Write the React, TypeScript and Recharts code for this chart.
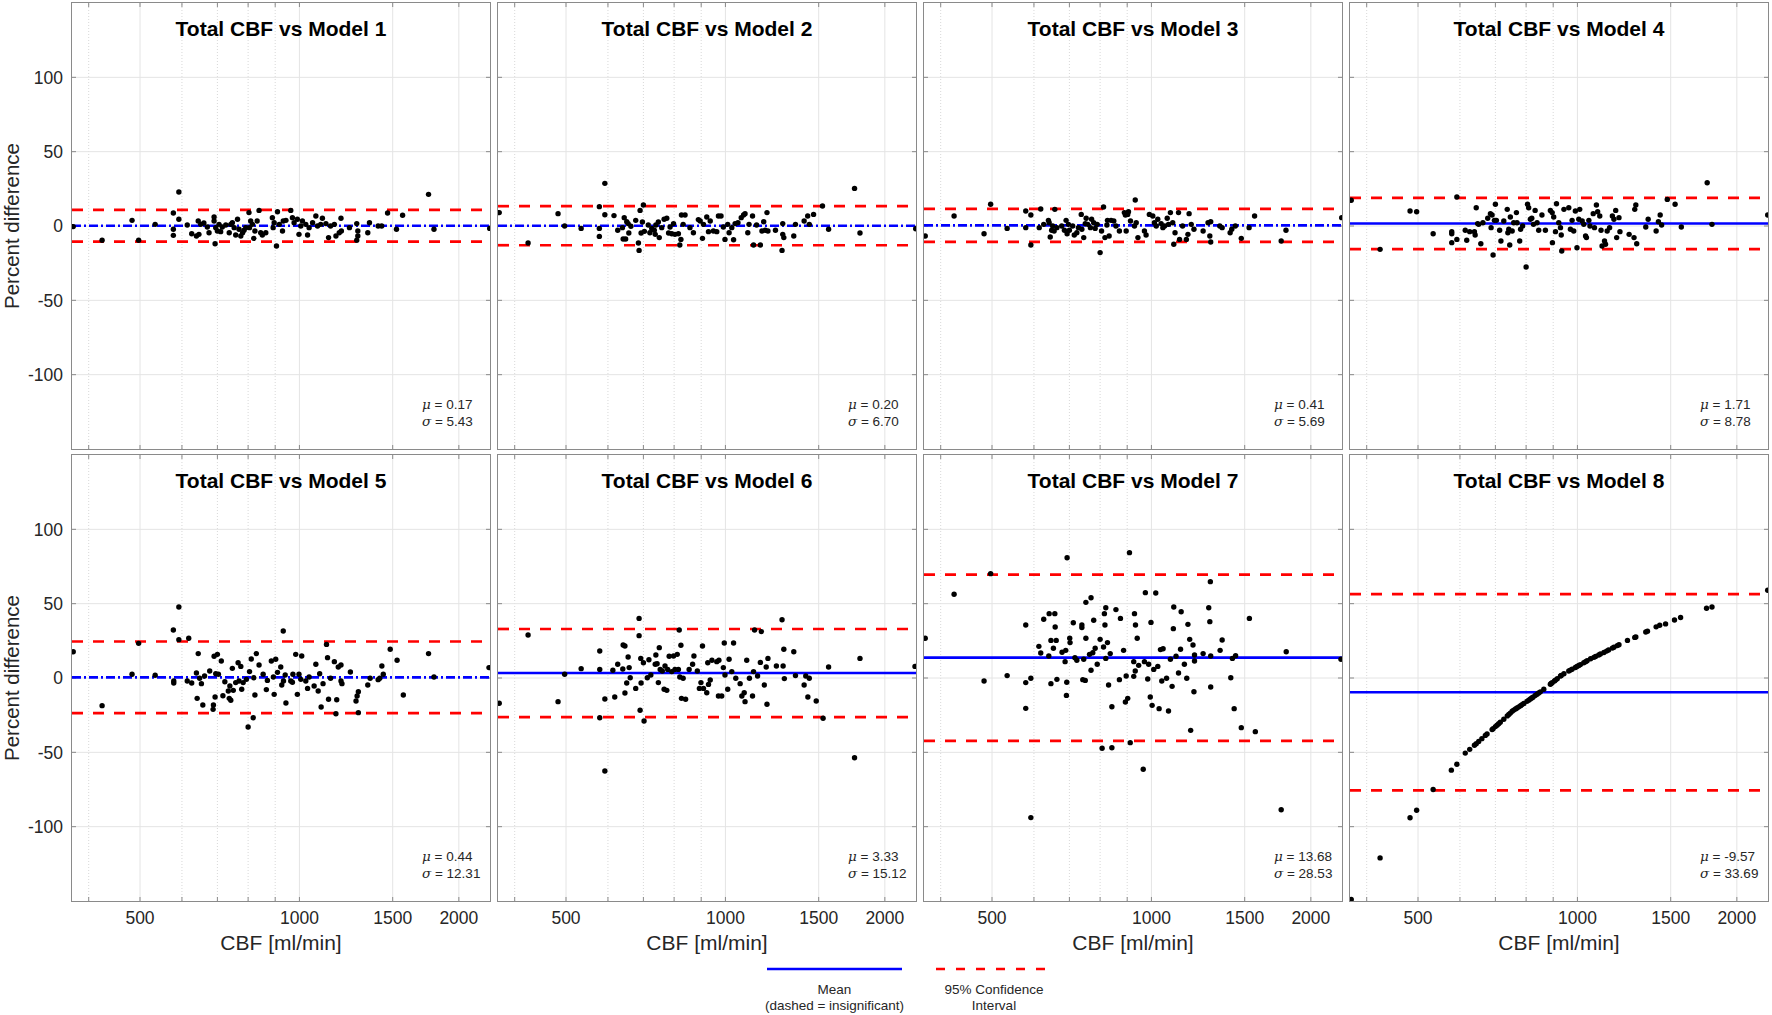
import React from 'react';
import { ScatterChart, Scatter, XAxis, YAxis, ReferenceLine } from 'recharts';

// ---- data ----
const MODEL_NAMES = ['Model 1', 'Model 2', 'Model 3', 'Model 4', 'Model 5', 'Model 6', 'Model 7', 'Model 8'];
const MEANS = [0.17, 0.2, 0.41, 1.71, 0.44, 3.33, 13.68, -9.57];
const SIGMAS = [5.43, 6.7, 5.69, 8.78, 12.31, 15.12, 28.53, 33.69];
// solid mean line = significant, dash-dot = insignificant
const SIGNIFICANT = [false, false, false, true, false, true, true, true];

const X_TICKS = [500, 1000, 1500, 2000];
const X_MINOR = [400, 600, 700, 800, 900];
const Y_TICKS = [-100, -50, 0, 50, 100];
const X_DOMAIN: [number, number] = [372, 2290];
const Y_DOMAIN: [number, number] = [-150, 150];

type Pt = [number, number];

const model1: Pt[] = [
  [374, -0.4], [424, -9.6], [483, 3.8], [497, -9.6], [534, 1.1], [578, 8.7], [578, -2.2], [578, -6.3], [592, 22.9], [592, 4.5],
  [614, 0.7], [626, -5.2], [639, -6.7], [644, 3.4], [646, -5.6], [651, 1.1], [660, 2.0], [670, -0.7], [675, -4.5], [690, 6.1],
  [690, 3.4], [693, -11.9], [695, -1.1], [700, -3.4], [705, 1.1], [710, -3.8], [715, -0.7], [726, 0.7], [737, -4.5], [742, 1.1],
  [747, 2.2], [753, -1.1], [758, -6.1], [764, 4.5], [769, -2.2], [775, -6.7], [781, -4.5], [786, -2.9], [792, -1.1], [803, 9.0],
  [805, -1.1], [809, 3.4], [815, 1.1], [820, -8.3], [824, -3.4], [832, 3.4], [839, 10.5], [845, -4.5], [851, -6.1], [864, -4.5],
  [889, 5.6], [892, -1.1], [896, 2.2], [905, -13.5], [909, 9.6], [916, 1.1], [929, -3.4], [932, 3.4], [943, 3.8], [963, 10.5],
  [970, 5.6], [977, 2.2], [991, 4.5], [998, -5.6], [1006, 0], [1013, 3.4], [1028, 1.1], [1036, -6.1], [1043, -1.1], [1059, 2.2],
  [1074, 6.7], [1082, 0], [1097, 1.1], [1105, 5.2], [1122, 1.6], [1135, -7.8], [1145, 0], [1164, 1.1], [1172, -6.7], [1189, -4.5],
  [1198, 5.2], [1200, -3.4], [1243, -1.1], [1283, 1.6], [1289, -3.4], [1289, -6.7], [1283, -9.6], [1346, -4.5], [1356, 2.2],
  [1408, 0], [1430, 0], [1467, 8.7], [1525, -2.2], [1566, 7.2], [1753, 21.3], [1795, -2.2], [2287, -1.6],
];

const model2: Pt[] = [
  [374, 9.0], [424, -11.4], [483, 8.3], [497, 0], [534, -1.6], [578, 13.0], [578, -1.6], [578, -7.0], [592, 28.7], [592, 7.6],
  [616, 7.0], [626, -2.9], [639, -1.1], [641, -8.7], [644, 5.6], [648, -8.7], [651, 2.9], [655, 1.6], [657, -4.7], [663, -0.2],
  [677, 3.8], [685, -11.4], [687, -16.4], [690, 10.5], [693, -4.7], [697, 2.7], [700, 14.1], [703, -3.6], [715, 0.7], [720, -4.5],
  [726, -1.6], [734, -2.9], [737, -5.6], [739, 0.7], [747, 2.7], [750, -7.8], [758, -1.1], [766, 4.5], [775, 5.2], [781, -4.7],
  [786, -0.7], [792, -5.2], [798, 1.6], [803, -5.6], [815, -5.2], [820, -12.8], [824, -9.0], [826, 7.4], [832, 1.1], [839, 7.4],
  [857, -1.1], [870, -4.5], [889, 4.3], [896, 3.4], [905, -8.3], [909, 1.1], [922, 6.1], [929, -3.8], [936, 3.4], [949, -3.4],
  [963, -3.8], [970, 6.7], [981, 6.7], [991, -0.7], [998, -9.0], [1010, 1.1], [1016, -4.5], [1028, -1.1], [1036, -9.2], [1043, 1.6],
  [1056, 2.2], [1071, 5.6], [1082, 7.4], [1089, 8.3], [1102, -4.5], [1108, 1.1], [1125, 6.7], [1130, -12.8], [1145, 0.7], [1164, -12.8],
  [1172, -3.4], [1181, 2.9], [1189, -2.9], [1198, 9.0], [1203, -3.4], [1243, -2.9], [1283, 1.6], [1283, -5.6], [1289, -7.8], [1279, -16.4],
  [1346, -6.7], [1356, 1.1], [1408, 3.4], [1430, 6.7], [1440, 1.1], [1467, 7.8], [1525, 13.5], [1566, -2.2], [1753, 25.3], [1795, -4.7],
  [2287, -1.8],
];

const model3: Pt[] = [
  [374, -6.7], [424, 6.7], [483, -5.2], [497, 14.6], [534, -1.6], [579, 10.1], [579, -1.1], [592, 7.4], [592, -12.8], [614, -1.1],
  [618, 11.4], [626, 1.1], [639, 3.8], [641, 2.2], [644, -7.4], [648, -2.9], [651, 0], [655, -3.4], [657, 11.2], [663, -1.1],
  [677, 0], [685, -2.9], [690, 3.8], [693, -5.2], [697, 1.1], [700, -2.9], [710, 0], [715, -6.1], [723, -4.5], [728, -1.1],
  [737, 7.8], [739, -2.2], [745, -7.8], [750, 1.6], [753, 5.2], [758, 1.1], [767, -1.1], [771, 4.5], [778, 2.2], [783, -1.6],
  [790, 1.1], [800, -17.9], [805, -3.4], [812, 12.8], [817, -7.8], [824, 0.7], [826, 3.8], [832, -6.7], [839, 3.8], [849, 3.4],
  [857, 0], [870, -3.4], [889, 9.0], [893, 7.4], [896, -3.4], [902, 7.8], [905, 9.6], [913, 3.4], [929, 0], [932, 17.5],
  [936, 2.2], [943, -7.8], [970, -3.4], [977, -6.1], [991, 7.8], [1006, 6.7], [1013, 2.2], [1021, 0], [1028, 4.5], [1043, 1.6],
  [1051, -1.1], [1059, 0], [1071, 5.2], [1077, 1.1], [1086, 9.0], [1097, 2.2], [1102, -12.3], [1108, -4.5], [1125, 9.0], [1130, -9.0],
  [1145, 0], [1164, -9.0], [1172, -5.6], [1178, 8.3], [1189, 1.1], [1203, -2.2], [1252, -3.4], [1279, 2.2], [1289, -6.7], [1294, -10.8],
  [1294, 2.9], [1346, 0], [1360, -1.1], [1408, -4.5], [1418, -2.2], [1440, 0], [1478, -8.3], [1529, -1.1], [1566, 6.7], [1758, -10.1],
  [1795, -2.9], [2287, 5.6],
];

const model4: Pt[] = [
  [374, 17.3], [424, -15.7], [483, 10.1], [497, 9.6], [534, -5.2], [579, -3.8], [579, -5.2], [579, -11.2], [592, 19.5], [592, -9.0],
  [614, -2.9], [618, -9.6], [626, -3.8], [639, -3.8], [641, -6.1], [644, 12.3], [648, 1.6], [651, 1.1], [657, -11.9], [663, 2.2],
  [677, 5.2], [685, 8.3], [687, -1.1], [690, 7.4], [693, -19.5], [697, 3.8], [700, 14.6], [703, 3.8], [713, -2.9], [717, -10.1],
  [726, 3.4], [737, 11.2], [739, -4.5], [742, -2.2], [745, -12.8], [747, 6.1], [753, -3.4], [758, 2.2], [767, 9.0], [769, 2.2],
  [778, -10.1], [781, -2.2], [788, 0], [800, -27.6], [805, 14.6], [809, 12.3], [815, 4.5], [820, 5.2], [826, 1.1], [832, 10.5],
  [839, 2.2], [845, -2.9], [857, 7.4], [870, -2.9], [889, 10.5], [896, 9.0], [897, -11.2], [902, 6.1], [909, -3.8], [913, 15.0],
  [922, 2.2], [929, -1.1], [932, -6.1], [934, -16.8], [943, 11.2], [963, 12.3], [970, -2.2], [977, 3.8], [984, -3.4], [991, 10.1],
  [998, -14.6], [1006, 4.5], [1010, 11.2], [1021, 3.4], [1028, 1.1], [1036, -6.7], [1040, -7.8], [1051, 3.8], [1056, 0], [1071, 8.3],
  [1077, -1.1], [1086, 14.1], [1092, 9.6], [1102, 6.7], [1108, -2.9], [1113, -13.5], [1125, -10.1], [1130, -12.3], [1138, -3.4], [1150, -1.1],
  [1164, 6.7], [1172, 4.5], [1181, 10.5], [1186, -7.8], [1198, 5.6], [1203, -3.8], [1252, -5.6], [1279, -7.8], [1283, 11.2], [1289, 14.1],
  [1294, -11.9], [1346, -0.7], [1360, 4.5], [1408, -3.4], [1422, 2.9], [1433, 7.4], [1442, 0.7], [1478, 17.9], [1529, 14.6], [1571, -0.7],
  [1758, 29.1], [1795, 1.1], [2287, 7.4],
];

const model5: Pt[] = [
  [374, 17.7], [424, -18.6], [483, 2.5], [497, 23.3], [534, 1.8], [578, 32.3], [579, -2.0], [579, -3.4], [592, 47.8], [592, 25.8],
  [614, -2.0], [618, 26.7], [626, -3.4], [639, 3.4], [641, -13.7], [644, 16.4], [648, -0.2], [653, -3.8], [657, -18.2], [662, 1.3],
  [677, 4.7], [687, -21.1], [688, -18.2], [690, 14.6], [693, -12.8], [695, 2.9], [700, 15.9], [703, 2.5], [712, 11.4], [717, -11.9],
  [723, -2.5], [734, -8.7], [737, -13.7], [739, -5.4], [742, -15.0], [747, 6.5], [750, -8.3], [758, -3.1], [766, 10.3], [769, -2.0],
  [775, 7.8], [778, -7.6], [783, -3.1], [794, -0.9], [800, -33.0], [805, 4.3], [811, 12.8], [818, -26.7], [820, 0.2], [824, -11.4],
  [829, 16.4], [839, 8.7], [854, 2.5], [866, -7.8], [870, -1.6], [885, 11.4], [893, 0.7], [896, -11.0], [902, 12.6], [909, 3.8],
  [922, 7.4], [926, -4.7], [932, 31.6], [933, -2.0], [940, 2.0], [943, -16.8], [963, -2.0], [970, -2.9], [972, 2.5], [984, 15.9],
  [991, -11.0], [998, 2.5], [1006, -0.9], [1010, 14.8], [1028, -2.0], [1036, -7.0], [1043, 0.7], [1066, -5.4], [1074, 9.2], [1085, -8.7],
  [1092, 2.9], [1099, -19.5], [1108, -3.8], [1125, 22.6], [1130, 13.7], [1135, -14.3], [1145, -0.2], [1164, 11.0], [1172, -24.0], [1176, -14.6],
  [1184, 7.4], [1198, 8.7], [1198, -2.0], [1203, -3.8], [1248, 4.0], [1279, -15.5], [1285, -12.1], [1292, -9.2], [1292, -23.3], [1346, -4.7],
  [1360, -0.2], [1408, -1.1], [1418, -0.2], [1431, 8.1], [1440, 2.5], [1484, 19.3], [1529, 11.9], [1571, -11.4], [1753, 16.4], [1795, 0.7],
  [2280, 7.0],
];

const model6: Pt[] = [
  [374, -17.0], [424, 28.9], [483, -15.9], [497, 2.5], [534, 6.3], [579, 18.2], [579, 5.8], [579, -26.7], [592, -14.1], [592, -62.6],
  [613, 5.2], [618, -12.8], [626, 9.2], [640, 6.1], [641, 22.2], [646, 21.5], [646, -10.1], [651, -3.4], [655, 14.1], [658, 7.0],
  [661, 0.2], [677, -7.0], [687, 40.1], [687, 28.5], [690, -21.7], [692, 13.2], [693, -3.4], [700, 10.3], [702, -28.9], [712, 0.2],
  [717, 12.3], [723, 2.0], [737, 9.2], [739, 15.5], [743, 9.6], [747, -3.1], [750, 20.4], [753, 5.8], [760, 4.7], [766, -7.6],
  [769, 8.1], [775, -8.3], [778, 5.8], [783, 14.6], [792, 4.3], [798, 14.8], [803, 5.8], [811, 15.9], [815, 5.8], [818, 32.3],
  [820, 0.7], [824, 22.0], [826, -13.7], [832, -0.2], [841, -14.3], [854, 5.8], [867, 9.2], [872, 14.8], [885, 4.7], [893, -7.0],
  [899, -3.1], [905, 21.5], [909, -7.0], [922, -9.9], [926, 10.3], [929, -4.3], [936, -1.3], [943, 11.9], [963, 11.0], [970, -12.1],
  [972, 11.9], [984, -12.1], [991, 7.0], [995, 23.5], [998, 2.0], [1010, -7.6], [1016, 12.6], [1028, 4.3], [1036, 23.5], [1046, -0.2],
  [1066, -3.8], [1074, -12.1], [1085, -9.9], [1089, -15.9], [1097, 11.9], [1110, -0.2], [1125, -12.1], [1130, 4.3], [1135, 32.3], [1150, 1.3],
  [1164, 10.5], [1169, 31.2], [1184, -4.7], [1194, 7.4], [1198, -17.7], [1203, 13.2], [1248, 8.1], [1279, 39.2], [1285, 8.1], [1289, 19.3],
  [1292, -0.4], [1346, 17.7], [1356, 1.6], [1408, -4.7], [1418, 1.3], [1431, -12.8], [1440, -0.2], [1484, -15.5], [1529, -27.1], [1566, 7.4],
  [1753, -53.6], [1795, 13.2], [2280, 7.8],
];

const model7: Pt[] = [
  [374, 26.7], [424, 56.3], [483, -2.0], [497, 70.2], [534, 1.6], [579, 35.7], [579, -3.1], [579, -20.4], [592, -0.2], [592, -93.9],
  [613, 21.3], [618, 16.8], [626, 39.5], [640, 14.8], [641, 43.3], [646, 25.3], [646, -3.8], [653, 20.0], [657, 43.3], [658, 34.3],
  [661, 25.3], [663, -0.9], [678, 17.3], [687, 11.0], [689, 18.6], [691, -11.7], [692, -2.9], [693, 80.9], [701, 26.7], [702, 23.8],
  [712, 37.2], [717, 13.7], [723, 11.9], [739, 35.7], [739, 33.9], [742, -1.1], [745, 12.6], [750, -1.6], [752, 50.9], [752, 26.7],
  [764, 15.9], [769, 54.0], [769, 5.2], [775, 17.0], [778, 38.8], [783, 20.0], [790, 9.2], [800, 26.0], [807, -47.3], [812, 20.9],
  [815, 43.3], [817, 35.7], [820, 47.3], [820, 13.2], [826, 23.8], [830, -4.7], [836, 16.4], [842, -19.3], [842, -46.9], [857, 46.0],
  [870, -1.1], [874, 40.1], [886, 18.6], [893, -16.1], [896, 1.3], [902, -13.7], [909, 84.3], [912, -43.5], [926, 11.0], [926, 1.1],
  [929, 43.3], [932, 4.7], [933, 35.7], [940, 26.7], [946, 8.5], [965, -61.4], [970, 11.0], [974, 57.4], [984, -0.7], [988, 9.2],
  [995, -12.8], [998, 37.4], [1003, -18.4], [1010, 5.8], [1019, 57.2], [1028, 7.8], [1034, -20.6], [1040, 19.1], [1046, -2.0], [1052, 19.7],
  [1068, -0.2], [1077, -22.2], [1086, 12.6], [1094, -5.6], [1100, 33.2], [1102, 47.8], [1113, 14.6], [1125, 3.4], [1135, 19.3], [1138, 44.6],
  [1154, 9.2], [1166, -0.2], [1172, 36.1], [1181, 26.0], [1186, -35.2], [1198, 22.2], [1203, -9.2], [1206, 15.5], [1206, 11.4], [1252, 16.4],
  [1283, 47.3], [1289, 37.9], [1292, 64.8], [1294, 14.8], [1294, -6.1], [1348, 18.6], [1360, 25.6], [1412, 0.2], [1422, 13.2], [1433, -20.6],
  [1442, 15.0], [1478, -33.4], [1531, 40.1], [1571, -36.1], [1758, -88.6], [1797, 17.7], [2280, 12.6],
];

const model8: Pt[] = [
  [374, -149], [424, -121], [483, -94], [497, -89], [534, -75], [578, -62], [592, -58], [614, -50.5], [626, -48], [639, -45.2],
  [644, -44.2], [651, -42.7], [660, -40.8], [670, -38.6], [675, -37.6], [690, -34.7], [693, -34.1], [700, -32.7], [705, -31.8], [710, -30.8],
  [715, -29.8], [726, -27.7], [737, -25.5], [742, -24.6], [747, -23.6], [753, -22.4], [758, -21.6], [764, -20.8], [769, -20.2], [775, -19.4],
  [781, -18.6], [786, -17.9], [792, -17.1], [803, -15.7], [809, -14.9], [815, -14.1], [820, -13.4], [824, -12.9], [832, -11.8], [839, -10.9],
  [845, -10.1], [851, -9.3], [864, -7.6], [889, -4.2], [892, -3.7], [896, -3.2], [905, -2.0], [909, -1.4], [916, -0.5], [929, 1.3],
  [932, 1.7], [943, 2.9], [963, 4.7], [970, 5.3], [977, 5.9], [991, 7.1], [998, 7.7], [1006, 8.4], [1013, 9.0], [1028, 10.3],
  [1036, 11.0], [1043, 11.6], [1059, 12.9], [1074, 13.9], [1082, 14.5], [1097, 15.5], [1105, 16.1], [1122, 17.2], [1135, 18.1], [1145, 18.8],
  [1164, 20.1], [1172, 20.7], [1189, 21.8], [1198, 22.4], [1243, 25.3], [1283, 27.3], [1289, 27.6], [1346, 30.9], [1356, 31.5], [1408, 34.4],
  [1430, 35.5], [1467, 36.4], [1525, 39.0], [1566, 40.7], [1753, 46.9], [1795, 47.8], [2287, 59],
];

const MODEL_POINTS = [model1, model2, model3, model4, model5, model6, model7, model8];

// ---- layout ----
const PLOT_LEFT = 72;
const PLOT_TOP = 3;
const PLOT_W = 418;
const PLOT_H = 446;
const COL_STEP = 426;
const ROW_STEP = 452;
const AXIS_W = 72;
const AXIS_H = 70;
const FONT = '"Liberation Sans", Arial, Helvetica, sans-serif';
const TEXT = '#262626';
const BORDER = '#8a8a8a';

const tickStyle = { fontSize: 17.5, fill: TEXT, fontFamily: FONT };

const Dot = (props: any) => <circle cx={props.cx} cy={props.cy} r={2.7} fill="#000" />;

const xTickLen = 2.7; // in y units (~4px)
const xFactor = 1.0176; // ~4px on the log axis

function Panel({ index }: { index: number }) {
  const col = index % 4;
  const row = Math.floor(index / 4);
  const left = PLOT_LEFT + col * COL_STEP - AXIS_W;
  const top = PLOT_TOP + row * ROW_STEP;
  const mu = MEANS[index];
  const ci = 1.96 * SIGMAS[index];
  const data = MODEL_POINTS[index].map(([x, y]) => ({ x, y }));

  return (
    <div style={{ position: 'absolute', left, top, width: PLOT_W + AXIS_W, height: PLOT_H + AXIS_H }}>
      <ScatterChart width={PLOT_W + AXIS_W} height={PLOT_H + AXIS_H} margin={{ top: 0, right: 0, bottom: 0, left: 0 }}>
        <XAxis
          type="number"
          dataKey="x"
          scale="log"
          domain={X_DOMAIN}
          ticks={X_TICKS}
          interval={0}
          allowDataOverflow
          height={AXIS_H}
          axisLine={false}
          tickLine={false}
          tickSize={0}
          tickMargin={11}
          tick={row === 1 ? tickStyle : false}
        />
        <YAxis
          type="number"
          dataKey="y"
          domain={Y_DOMAIN}
          ticks={Y_TICKS}
          interval={0}
          allowDataOverflow
          width={AXIS_W}
          axisLine={false}
          tickLine={false}
          tickSize={0}
          tickMargin={9}
          tick={col === 0 ? tickStyle : false}
        />
        {X_MINOR.map((v) => (
          <ReferenceLine key={'xm' + v} x={v} stroke="#d8d8d8" strokeWidth={1} strokeDasharray="1 2" />
        ))}
        {X_TICKS.map((v) => (
          <ReferenceLine key={'xg' + v} x={v} stroke="#e4e4e4" strokeWidth={1} />
        ))}
        {Y_TICKS.map((v) => (
          <ReferenceLine key={'yg' + v} y={v} stroke="#e4e4e4" strokeWidth={1} />
        ))}
        {[...X_MINOR, ...X_TICKS].map((v) => (
          <ReferenceLine key={'xtb' + v} segment={[{ x: v, y: -150 }, { x: v, y: -150 + xTickLen }]} stroke={BORDER} strokeWidth={1} />
        ))}
        {[...X_MINOR, ...X_TICKS].map((v) => (
          <ReferenceLine key={'xtt' + v} segment={[{ x: v, y: 150 }, { x: v, y: 150 - xTickLen }]} stroke={BORDER} strokeWidth={1} />
        ))}
        {Y_TICKS.map((v) => (
          <ReferenceLine key={'ytl' + v} segment={[{ x: X_DOMAIN[0], y: v }, { x: X_DOMAIN[0] * xFactor, y: v }]} stroke={BORDER} strokeWidth={1} />
        ))}
        {Y_TICKS.map((v) => (
          <ReferenceLine key={'ytr' + v} segment={[{ x: X_DOMAIN[1] / xFactor, y: v }, { x: X_DOMAIN[1], y: v }]} stroke={BORDER} strokeWidth={1} />
        ))}
        <ReferenceLine y={mu + ci} stroke="#ff0000" strokeWidth={2.7} strokeDasharray="11 10" />
        <ReferenceLine y={mu - ci} stroke="#ff0000" strokeWidth={2.7} strokeDasharray="11 10" />
        <ReferenceLine y={mu} stroke="#0000ff" strokeWidth={2.6} strokeDasharray={SIGNIFICANT[index] ? undefined : '9 3 2 3'} />
        <Scatter data={data} isAnimationActive={false} shape={Dot} />
      </ScatterChart>
      <div
        style={{
          position: 'absolute',
          left: AXIS_W - 0.75,
          top: -0.75,
          width: PLOT_W + 1.5,
          height: PLOT_H + 1.5,
          border: `1.5px solid ${BORDER}`,
          boxSizing: 'border-box',
          pointerEvents: 'none',
        }}
      />
    </div>
  );
}

function Texts() {
  return (
    <svg width={1772} height={1015} style={{ position: 'absolute', left: 0, top: 0, pointerEvents: 'none' }} fontFamily={FONT}>
      {MODEL_NAMES.map((name, i) => {
        const col = i % 4;
        const row = Math.floor(i / 4);
        const px = PLOT_LEFT + col * COL_STEP;
        const py = PLOT_TOP + row * ROW_STEP;
        return (
          <g key={name}>
            <text x={px + PLOT_W / 2} y={py + 33} textAnchor="middle" fontSize={21} fontWeight="bold" fill="#000">
              {'Total CBF vs ' + name}
            </text>
            <text x={px + 350} y={py + 406} fontSize={13.5} fill={TEXT}>
              <tspan fontStyle="italic" fontFamily="'DejaVu Serif', serif">μ</tspan>
              {' = ' + MEANS[i].toFixed(2)}
            </text>
            <text x={px + 350} y={py + 423} fontSize={13.5} fill={TEXT}>
              <tspan fontStyle="italic" fontFamily="'DejaVu Serif', serif">σ</tspan>
              {' = ' + SIGMAS[i].toFixed(2)}
            </text>
            {row === 1 && (
              <text x={px + PLOT_W / 2} y={950} textAnchor="middle" fontSize={21} fill={TEXT}>
                CBF [ml/min]
              </text>
            )}
            {col === 0 && (
              <text transform={`translate(18.5, ${py + PLOT_H / 2}) rotate(-90)`} textAnchor="middle" fontSize={20.5} fill={TEXT}>
                Percent difference
              </text>
            )}
          </g>
        );
      })}
      {/* legend */}
      <line x1={767} y1={969} x2={902} y2={969} stroke="#0000ff" strokeWidth={2.6} />
      <line x1={936} y1={969} x2={1051} y2={969} stroke="#ff0000" strokeWidth={2.6} strokeDasharray="9 11" />
      <text x={834.5} y={993.5} textAnchor="middle" fontSize={13.5} fill={TEXT}>Mean</text>
      <text x={834.5} y={1010} textAnchor="middle" fontSize={13.5} fill={TEXT}>(dashed = insignificant)</text>
      <text x={994} y={993.5} textAnchor="middle" fontSize={13.5} fill={TEXT}>95% Confidence</text>
      <text x={994} y={1010} textAnchor="middle" fontSize={13.5} fill={TEXT}>Interval</text>
    </svg>
  );
}

export default function App() {
  return (
    <div style={{ position: 'absolute', left: 0, top: 0, width: 1772, height: 1015, background: '#fff', fontFamily: FONT }}>
      {MODEL_NAMES.map((_, i) => (
        <Panel key={i} index={i} />
      ))}
      <Texts />
    </div>
  );
}
